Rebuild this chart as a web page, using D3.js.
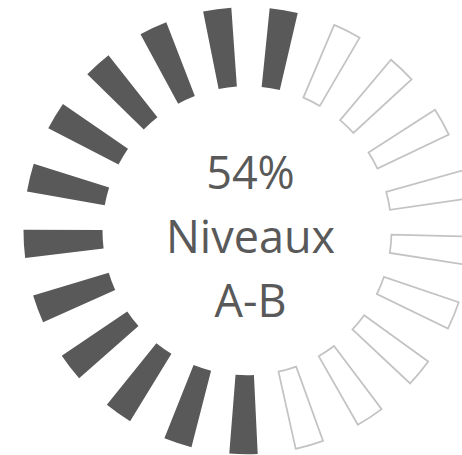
<!DOCTYPE html>
<html>
<head>
<meta charset="utf-8">
<script src="https://cdn.jsdelivr.net/npm/d3@7"></script>
<style>
  html, body { margin: 0; padding: 0; background: #ffffff; overflow: hidden; }
  svg { display: block; }
</style>
</head>
<body>
<div id="chart"></div>
<script>
// ---- data ----
// 21 radial segments, listed clockwise starting from the bottom (6 o'clock)
const segmentStatus = [1,1,1,1,1,1,1,1,1,1,1,1, 0,0,0,0,0,0,0,0,0];
const centerLines = ["54%", "Niveaux", "A-B"];

// ---- layout ----
const W = 462, H = 455;
const cx = 247, cy = 230.7;
const innerR = 144.5, outerR = 223.5;
const startDeg = 180.9;            // centre of first segment
const segWidthDeg = 7.3;           // angular width of each bar
const fillColor = "#595959";
const emptyStroke = "#c3c3c3";

const svg = d3.select("#chart").append("svg")
  .attr("width", W).attr("height", H);

const g = svg.append("g").attr("transform", `translate(${cx},${cy})`);

const n = segmentStatus.length;
const angle = d3.scaleLinear()
  .domain([0, n])
  .range([startDeg * Math.PI / 180, (startDeg + 360) * Math.PI / 180]);

const half = segWidthDeg * Math.PI / 360;
const arc = d3.arc()
  .innerRadius(innerR)
  .outerRadius(outerR)
  .startAngle(d => angle(d.i) - half)
  .endAngle(d => angle(d.i) + half);

const segs = segmentStatus.map((v, i) => ({ i, v }));

g.selectAll("path.seg")
  .data(segs)
  .join("path")
  .attr("class", "seg")
  .attr("d", arc)
  .attr("fill", d => d.v ? fillColor : "none")
  .attr("stroke", d => d.v ? "none" : emptyStroke)
  .attr("stroke-width", 1.75)
  .attr("stroke-linejoin", "miter");

// ---- centre text ----
const baselines = [188.8, 253.3, 316.5];
svg.selectAll("text.lbl")
  .data(centerLines)
  .join("text")
  .attr("class", "lbl")
  .attr("x", 250.5)
  .attr("y", (d, i) => baselines[i])
  .attr("text-anchor", "middle")
  .attr("font-family", "'Open Sans', 'Noto Sans', sans-serif")
  .attr("font-size", 45)
  .attr("fill", "#595959")
  .text(d => d);
</script>
</body>
</html>
